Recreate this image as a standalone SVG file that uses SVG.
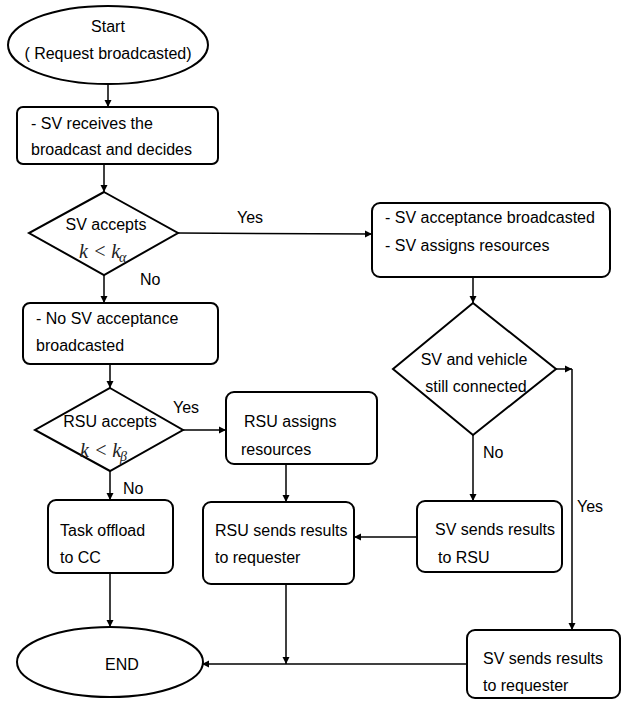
<svg xmlns="http://www.w3.org/2000/svg" width="625" height="701" viewBox="0 0 625 701">
<style>
.n{fill:#fff;stroke:#000;stroke-width:2}
.t{font-family:"Liberation Sans",Arial,sans-serif;font-size:16px;fill:#000}
.m{font-family:"Liberation Serif","Times New Roman",serif;font-style:italic;font-size:20px;fill:#222}
.s{font-family:"Liberation Serif","Times New Roman",serif;font-style:italic;font-size:14px;fill:#222}
.c{fill:none;stroke:#000;stroke-width:1.5}
</style>
<defs>
<marker id="a" markerWidth="8" markerHeight="8" refX="7" refY="4" orient="auto" markerUnits="userSpaceOnUse">
<path d="M0,0.5 L7,4 L0,7.5 Z" fill="#000"/>
</marker>
</defs>
<rect width="625" height="701" fill="#fff"/>
<g id="connectors">
<line class="c" x1="108" y1="85" x2="108" y2="107" marker-end="url(#a)"/>
<line class="c" x1="104" y1="164" x2="104" y2="192" marker-end="url(#a)"/>
<line class="c" x1="178" y1="233" x2="372" y2="234" marker-end="url(#a)"/>
<line class="c" x1="104" y1="275" x2="104" y2="303" marker-end="url(#a)"/>
<line class="c" x1="473" y1="277" x2="473" y2="303" marker-end="url(#a)"/>
<line class="c" x1="110" y1="364" x2="110" y2="388" marker-end="url(#a)"/>
<line class="c" x1="556" y1="369" x2="572" y2="369" marker-end="url(#a)"/>
<line class="c" x1="572" y1="369" x2="572" y2="630" marker-end="url(#a)"/>
<line class="c" x1="183" y1="430" x2="226" y2="430" marker-end="url(#a)"/>
<line class="c" x1="110" y1="471" x2="110" y2="500" marker-end="url(#a)"/>
<line class="c" x1="473" y1="435" x2="473" y2="501" marker-end="url(#a)"/>
<line class="c" x1="286" y1="464" x2="286" y2="502" marker-end="url(#a)"/>
<line class="c" x1="417" y1="537" x2="354" y2="537" marker-end="url(#a)"/>
<line class="c" x1="110" y1="573" x2="110" y2="627" marker-end="url(#a)"/>
<line class="c" x1="286" y1="584" x2="286" y2="664" marker-end="url(#a)"/>
<line class="c" x1="467" y1="664" x2="202" y2="664" marker-end="url(#a)"/>
<text class="t" x="237" y="223">Yes</text>
<text class="t" x="140" y="285">No</text>
<text class="t" x="173" y="413">Yes</text>
<text class="t" x="123" y="494">No</text>
<text class="t" x="483" y="458">No</text>
<text class="t" x="577" y="512">Yes</text>
</g>
<g id="start">
<ellipse class="n" cx="108" cy="45" rx="100" ry="39"/>
<text class="t" x="108" y="32" text-anchor="middle">Start</text>
<text class="t" x="108" y="59" text-anchor="middle">( Request broadcasted)</text>
</g>
<g id="sv-receives">
<rect class="n" x="17" y="107" width="201" height="57" rx="6"/>
<text class="t" x="31" y="129">- SV receives the</text>
<text class="t" x="31" y="155">broadcast and decides</text>
</g>
<g id="sv-accepts">
<polygon class="n" points="104,192 178,233 104,275 29,233"/>
<text class="t" x="106" y="230" text-anchor="middle">SV accepts</text>
<text class="m" x="79" y="258">k &lt; k</text><text class="s" x="119" y="262">α</text>
</g>
<g id="sv-acceptance">
<rect class="n" x="372" y="203" width="238" height="74" rx="8"/>
<text class="t" x="385" y="223">- SV acceptance broadcasted</text>
<text class="t" x="385" y="251">- SV assigns resources</text>
</g>
<g id="no-sv-acceptance">
<rect class="n" x="23" y="303" width="195" height="61" rx="7"/>
<text class="t" x="36" y="324">- No SV acceptance</text>
<text class="t" x="36" y="351">broadcasted</text>
</g>
<g id="still-connected">
<polygon class="n" points="473,303 556,369 473,435 393,369"/>
<text class="t" x="474" y="365" text-anchor="middle">SV and vehicle</text>
<text class="t" x="476" y="392" text-anchor="middle">still connected</text>
</g>
<g id="rsu-accepts">
<polygon class="n" points="110,388 183,430 110,471 35,430"/>
<text class="t" x="110" y="427" text-anchor="middle">RSU accepts</text>
<text class="m" x="80" y="457">k &lt; k</text><text class="s" x="120" y="461">β</text>
</g>
<g id="rsu-assigns">
<rect class="n" x="226" y="392" width="151" height="72" rx="8"/>
<text class="t" x="244" y="427">RSU assigns</text>
<text class="t" x="241" y="455">resources</text>
</g>
<g id="task-offload">
<rect class="n" x="48" y="500" width="125" height="73" rx="8"/>
<text class="t" x="60" y="536">Task offload</text>
<text class="t" x="60" y="563">to CC</text>
</g>
<g id="rsu-sends">
<rect class="n" x="203" y="502" width="151" height="82" rx="8"/>
<text class="t" x="215" y="536">RSU sends results</text>
<text class="t" x="215" y="563">to requester</text>
</g>
<g id="sv-sends-rsu">
<rect class="n" x="417" y="501" width="145" height="71" rx="8"/>
<text class="t" x="435" y="535">SV sends results</text>
<text class="t" x="438" y="563">to RSU</text>
</g>
<g id="sv-sends-requester">
<rect class="n" x="467" y="630" width="153" height="68" rx="8"/>
<text class="t" x="483" y="664">SV sends results</text>
<text class="t" x="483" y="691">to requester</text>
</g>
<g id="end">
<ellipse class="n" cx="110" cy="662" rx="93" ry="35"/>
<text class="t" x="122" y="670" text-anchor="middle">END</text>
</g>
</svg>
